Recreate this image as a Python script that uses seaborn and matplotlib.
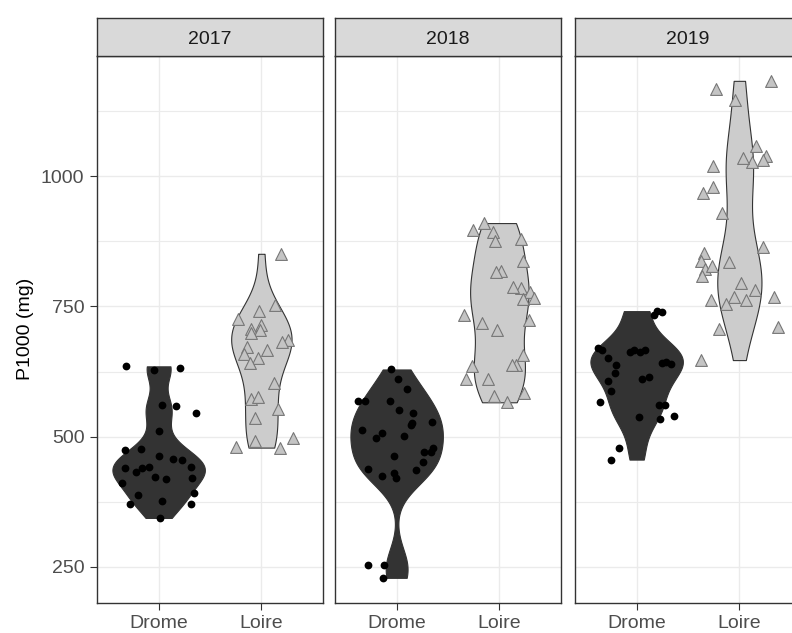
import numpy as np
import pandas as pd
import matplotlib
matplotlib.use("Agg")
import matplotlib.pyplot as plt
import seaborn as sns

# ---------------- data ----------------
years = ["2017", "2018", "2019"]
sites = ["Drome", "Loire"]

drome_2017 = [635, 632, 628, 558, 545, 561, 511, 474, 476, 462, 458, 455, 441, 439,
              439, 442, 433, 423, 421, 411, 418, 392, 388, 377, 371, 371, 344]
loire_2017 = [851, 752, 741, 726, 715, 706, 704, 699, 685, 681, 672, 667, 659, 651,
              641, 603, 572, 577, 553, 535, 497, 481, 479, 491]
drome_2018 = [629, 592, 610, 569, 569, 569, 545, 551, 526, 529, 523, 513, 508, 501,
              498, 479, 471, 471, 462, 452, 437, 424, 430, 436, 421, 253, 253, 229]
loire_2018 = [910, 896, 892, 876, 880, 837, 818, 816, 786, 778, 787, 765, 767, 733,
              723, 718, 704, 656, 637, 635, 638, 610, 611, 583, 579, 566]
drome_2019 = [734, 739, 741, 671, 662, 667, 667, 662, 667, 642, 640, 651, 638, 614,
              606, 622, 610, 588, 561, 561, 567, 538, 533, 539, 479, 456, 643]
loire_2019 = [1183, 1167, 1147, 1058, 1038, 1019, 1028, 1032, 1034, 979, 967, 930,
              865, 852, 838, 835, 822, 827, 808, 795, 781, 768, 762, 755, 763, 768,
              710, 707, 647]

series = {
    ("2017", "Drome"): drome_2017, ("2017", "Loire"): loire_2017,
    ("2018", "Drome"): drome_2018, ("2018", "Loire"): loire_2018,
    ("2019", "Drome"): drome_2019, ("2019", "Loire"): loire_2019,
}
rows = []
for (yr, st), vals in series.items():
    for v in vals:
        rows.append({"year": yr, "site": st, "p1000": v})
df = pd.DataFrame(rows)

y_major = [250, 500, 750, 1000]
y_minor = [375, 625, 875, 1125]


def nrd0_factor(kde):
    """Bandwidth factor reproducing R's bw.nrd0 (used by ggplot2 violins)."""
    x = np.asarray(kde.dataset).ravel()
    sd = np.std(x, ddof=1)
    iqr = np.subtract(*np.percentile(x, [75, 25]))
    lo = min(sd, iqr / 1.34) if iqr > 0 else sd
    bw = 0.9 * lo * len(x) ** (-0.2)
    return bw / sd


# ---------------- styling ----------------
plt.rcParams["font.family"] = ["Liberation Sans", "DejaVu Sans"]
W, H = 792, 633
fig = plt.figure(figsize=(W / 100, H / 100), dpi=100)
fig.patch.set_facecolor("white")

violin_fill = {"Drome": "#333333", "Loire": "#CCCCCC"}
dark = "#333333"

# y range with ggplot-like 5% expansion
lo, hi = df["p1000"].min(), df["p1000"].max()
rng = hi - lo
ylim = (lo - 0.05 * rng, hi + 0.05 * rng)

panel_left = [97, 335, 575]
panel_w = 226
panel_top, panel_bot = 56, 602.7
strip_top = 18

np.random.seed(7)
for i, yr in enumerate(years):
    x0 = panel_left[i]
    ax = fig.add_axes([x0 / W, (H - panel_bot) / H, panel_w / W, (panel_bot - panel_top) / H])
    sub = df[df["year"] == yr]

    sns.violinplot(data=sub, x="site", y="p1000", hue="site", order=sites, hue_order=sites,
                   palette=violin_fill, cut=0, inner=None, width=0.9, density_norm="area",
                   common_norm=True, bw_method=nrd0_factor, bw_adjust=1, gridsize=256,
                   saturation=1, linecolor=dark, linewidth=0.8, legend=False, ax=ax)
    sns.stripplot(data=sub[sub["site"] == "Drome"], x="site", y="p1000", order=sites,
                  color="black", size=5.6, jitter=0.38, linewidth=0, ax=ax, zorder=4)
    sns.stripplot(data=sub[sub["site"] == "Loire"], x="site", y="p1000", order=sites,
                  color="#C4C4C4", marker="^", size=8.5, jitter=0.38, edgecolor="#777777",
                  linewidth=0.8, ax=ax, zorder=4)

    ax.set_xlim(-0.6, 1.6)
    ax.set_ylim(*ylim)
    ax.set_xlabel("")
    ax.set_ylabel("")
    ax.set_yticks(y_major)
    ax.set_yticks(y_minor, minor=True)
    ax.set_facecolor("white")
    ax.grid(True, which="major", color="#EBEBEB", linewidth=1.0, zorder=0)
    ax.grid(True, which="minor", axis="y", color="#EBEBEB", linewidth=0.8, zorder=0)
    ax.set_axisbelow(True)
    for s in ax.spines.values():
        s.set_color(dark)
        s.set_linewidth(1.0)
        s.set_zorder(5)
    ax.tick_params(axis="both", which="major", direction="out", length=5, width=0.8,
                   color=dark, labelcolor="#4D4D4D", labelsize=14)
    ax.tick_params(axis="x", pad=3.5)
    ax.tick_params(axis="y", pad=4)
    ax.tick_params(axis="y", which="minor", left=False)
    if i > 0:
        ax.tick_params(axis="y", left=False, labelleft=False)

    # facet strip
    sax = fig.add_axes([x0 / W, (H - panel_top) / H, panel_w / W, (panel_top - strip_top) / H])
    sax.set_facecolor("#D9D9D9")
    sax.set_xticks([])
    sax.set_yticks([])
    for s in sax.spines.values():
        s.set_color(dark)
        s.set_linewidth(1.0)
    sax.text(0.5, 0.44, yr, ha="center", va="center", fontsize=14, color="#1A1A1A",
             transform=sax.transAxes)

fig.text(25 / W, 1 - ((panel_top + panel_bot) / 2) / H, "P1000 (mg)", rotation=90,
         ha="center", va="center", fontsize=14, color="black")

fig.savefig("out.png", dpi=100, facecolor="white")
